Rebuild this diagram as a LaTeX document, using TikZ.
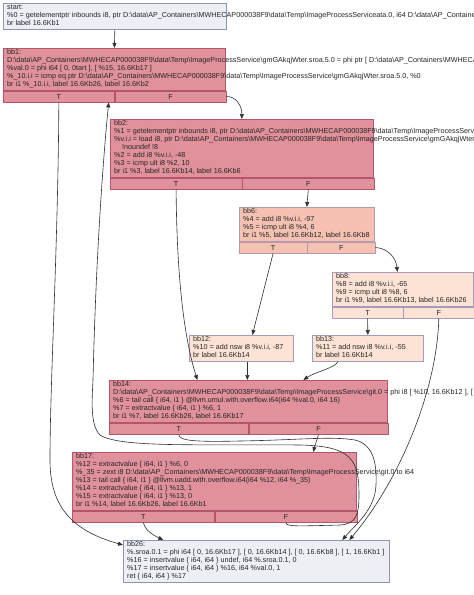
\documentclass[tikz,border=0pt]{standalone}
\usepackage{fontspec}
\setmainfont{Liberation Sans}
\usetikzlibrary{arrows.meta,calc}
\definecolor{grayfill}{HTML}{EDEFF5}
\definecolor{grayline}{HTML}{8E94B8}
\definecolor{redfill}{HTML}{E0919B}
\definecolor{redline}{HTML}{B4566A}
\definecolor{salfill}{HTML}{F5C1B3}
\definecolor{salline}{HTML}{B49AAA}
\definecolor{peachfill}{HTML}{FDE3D5}
\definecolor{peachline}{HTML}{A59BBE}
\definecolor{edgec}{HTML}{303030}
\newcommand\bs{\textbackslash}
\begin{document}
\begin{tikzpicture}[x=1pt,y=-1pt,
 box/.style={rectangle, inner sep=0pt, anchor=north west, line width=0.7pt, font=\fontsize{7.2}{8}\selectfont, text=black!85},
 gbox/.style={box, draw=grayline, fill=grayfill},
 rbox/.style={box, draw=redline, fill=redfill},
 sbox/.style={box, draw=salline, fill=salfill},
 pbox/.style={box, draw=peachline, fill=peachfill},
 txt/.style={anchor=west, inner sep=0pt, align=left, font=\fontsize{7.2}{8}\selectfont, text=black!85},
 link/.style={draw=edgec, line width=0.6pt, -{Triangle[length=5pt,width=4pt]}},
]
\useasboundingbox (0,0) rectangle (474,595);
\fill[white] (0,0) rectangle (474,595);

% start
\node[gbox, minimum width=223pt, minimum height=26pt] (start) at (3,3) {};
\node[txt] (startx) at ($(start.west)+(4,0)$) {\strut start:\\
\%0 = getelementptr inbounds i8, ptr D:\bs data\bs AP\_Containers\bs MWHECAP000038F9\bs data\bs Temp\bs ImageProcessServiceata.0, i64 D:\bs data\bs AP\_Containers\\
br label 16.6Kb1\strut};

% bb1
\node[rbox, minimum width=222pt, minimum height=42pt] (bb1) at (3,48) {};
\node[rbox, minimum width=111pt, minimum height=11pt] (bb1T) at (bb1.south west) {T};
\node[rbox, minimum width=111pt, minimum height=11pt] (bb1F) at (bb1T.north east) {F};
\node[txt] (bb1x) at ($(bb1.west)+(4,0)$) {\strut bb1:\\
D:\bs data\bs AP\_Containers\bs MWHECAP000038F9\bs data\bs Temp\bs ImageProcessService\bs gmGAkqjWter.sroa.5.0 = phi ptr [ D:\bs data\bs AP\_Containers\bs MWHECAP\\
\%val.0 = phi i64 [ 0, 0tart ], [ \%15, 16.6Kb17 ]\\
\%\_10.i.i = icmp eq ptr D:\bs data\bs AP\_Containers\bs MWHECAP000038F9\bs data\bs Temp\bs ImageProcessService\bs gmGAkqjWter.sroa.5.0, \%0\\
br i1 \%\_10.i.i, label 16.6Kb26, label 16.6Kb2\strut};

% bb2
\node[rbox, minimum width=263pt, minimum height=58pt] (bb2) at (110,119) {};
\node[rbox, minimum width=131.5pt, minimum height=11pt] (bb2T) at (bb2.south west) {T};
\node[rbox, minimum width=131.5pt, minimum height=11pt] (bb2F) at (bb2T.north east) {F};
\node[txt] (bb2x) at ($(bb2.west)+(4,0)$) {\strut bb2:\\
\%1 = getelementptr inbounds i8, ptr D:\bs data\bs AP\_Containers\bs MWHECAP000038F9\bs data\bs Temp\bs ImageProcessService\\
\%v.i.i = load i8, ptr D:\bs data\bs AP\_Containers\bs MWHECAP000038F9\bs data\bs Temp\bs ImageProcessService\bs gmGAkqjWter.s\\
\hspace*{8pt}!noundef !8\\
\%2 = add i8 \%v.i.i, -48\\
\%3 = icmp ult i8 \%2, 10\\
br i1 \%3, label 16.6Kb14, label 16.6Kb6\strut};

% bb6
\node[sbox, minimum width=135pt, minimum height=34pt] (bb6) at (239,207) {};
\node[sbox, minimum width=67.5pt, minimum height=11pt] (bb6T) at (bb6.south west) {T};
\node[sbox, minimum width=67.5pt, minimum height=11pt] (bb6F) at (bb6T.north east) {F};
\node[txt] (bb6x) at ($(bb6.west)+(4,0)$) {\strut bb6:\\
\%4 = add i8 \%v.i.i, -97\\
\%5 = icmp ult i8 \%4, 6\\
br i1 \%5, label 16.6Kb12, label 16.6Kb8\strut};

% bb8
\node[pbox, minimum width=141pt, minimum height=34pt] (bb8) at (332,272) {};
\node[pbox, minimum width=70.5pt, minimum height=11pt] (bb8T) at (bb8.south west) {T};
\node[pbox, minimum width=70.5pt, minimum height=11pt] (bb8F) at (bb8T.north east) {F};
\node[txt] (bb8x) at ($(bb8.west)+(4,0)$) {\strut bb8:\\
\%8 = add i8 \%v.i.i, -65\\
\%9 = icmp ult i8 \%8, 6\\
br i1 \%9, label 16.6Kb13, label 16.6Kb26\strut};

% bb12, bb13
\node[pbox, minimum width=104pt, minimum height=26pt] (bb12) at (189,335) {};
\node[txt] (bb12x) at ($(bb12.west)+(4,0)$) {\strut bb12:\\
\%10 = add nsw i8 \%v.i.i, -87\\
br label 16.6Kb14\strut};
\node[pbox, minimum width=111pt, minimum height=26pt] (bb13) at (312,335) {};
\node[txt] (bb13x) at ($(bb13.west)+(4,0)$) {\strut bb13:\\
\%11 = add nsw i8 \%v.i.i, -55\\
br label 16.6Kb14\strut};

% bb14
\node[rbox, minimum width=278pt, minimum height=42pt] (bb14) at (109,380) {};
\node[rbox, minimum width=139pt, minimum height=11pt] (bb14T) at (bb14.south west) {T};
\node[rbox, minimum width=139pt, minimum height=11pt] (bb14F) at (bb14T.north east) {F};
\node[txt] (bb14x) at ($(bb14.west)+(4,0)$) {\strut bb14:\\
D:\bs data\bs AP\_Containers\bs MWHECAP000038F9\bs data\bs Temp\bs ImageProcessService\bs git.0 = phi i8 [ \%10, 16.6Kb12 ], [ \%\\
\%6 = tail call \{ i64, i1 \} @llvm.umul.with.overflow.i64(i64 \%val.0, i64 16)\\
\%7 = extractvalue \{ i64, i1 \} \%6, 1\\
br i1 \%7, label 16.6Kb26, label 16.6Kb17\strut};

% bb17
\node[rbox, minimum width=284pt, minimum height=58pt] (bb17) at (72,452) {};
\node[rbox, minimum width=142pt, minimum height=11pt] (bb17T) at (bb17.south west) {T};
\node[rbox, minimum width=142pt, minimum height=11pt] (bb17F) at (bb17T.north east) {F};
\node[txt] (bb17x) at ($(bb17.west)+(4,0)$) {\strut bb17:\\
\%12 = extractvalue \{ i64, i1 \} \%6, 0\\
\%\_35 = zext i8 D:\bs data\bs AP\_Containers\bs MWHECAP000038F9\bs data\bs Temp\bs ImageProcessService\bs git.0 to i64\\
\%13 = tail call \{ i64, i1 \} @llvm.uadd.with.overflow.i64(i64 \%12, i64 \%\_35)\\
\%14 = extractvalue \{ i64, i1 \} \%13, 1\\
\%15 = extractvalue \{ i64, i1 \} \%13, 0\\
br i1 \%14, label 16.6Kb26, label 16.6Kb1\strut};

% bb26
\node[gbox, minimum width=266pt, minimum height=42pt] (bb26) at (123,540) {};
\node[txt] (bb26x) at ($(bb26.west)+(4,0)$) {\strut bb26:\\
\%.sroa.0.1 = phi i64 [ 0, 16.6Kb17 ], [ 0, 16.6Kb14 ], [ 0, 16.6Kb8 ], [ 1, 16.6Kb1 ]\\
\%16 = insertvalue \{ i64, i64 \} undef, i64 \%.sroa.0.1, 0\\
\%17 = insertvalue \{ i64, i64 \} \%16, i64 \%val.0, 1\\
ret \{ i64, i64 \} \%17\strut};

% edges
\draw[link] (start.south) -- (bb1.north);
\draw[link] (bb1T.south) .. controls (58,250) and (50,380) .. (50,460) .. controls (50,505) and (70,530) .. ($(bb26.north west)+(0,5)$);
\draw[link] (bb1F.east) .. controls (236,96) and (242,106) .. (bb2.north);
\draw[link] (bb2T.south) .. controls (177,300) and (188,350) .. ($(bb14.north)+(-51,0)$);
\draw[link] (bb2F.south) -- (bb6.north);
\draw[link] (bb6T.south) -- ($(bb12.north)+(11,0)$);
\draw[link] (bb6F.east) .. controls (388,248) and (396,258) .. ($(bb8.north)+(-5.5,0)$);
\draw[link] (bb8T.south) -- (bb13.north);
\draw[link] (bb8F.south) .. controls (437,390) and (400,480) .. ($(bb26.north)+(93,0)$);
\draw[link] ($(bb12.south)+(6,0)$) -- ($(bb14.north)+(-1,0)$);
\draw[link] ($(bb13.south)+(-30,0)$) .. controls (335,368) and (315,372) .. ($(bb14.north)+(55,0)$);
\draw[link] (bb14T.south) .. controls (179,441) and (195,442) .. (240,441) .. controls (300,440) and (330,436) .. (355,440) .. controls (372,444) and (377,460) .. (376,485) .. controls (375,510) and (355,525) .. ($(bb26.north)+(86,0)$);
\draw[link] (bb14F.south) .. controls (317,440) and (315,445) .. ($(bb17.north)+(99,0)$);
\draw[link] (bb17T.south) .. controls (145,531) and (155,536) .. ($(bb26.north)+(-93,0)$);
\draw[link] (bb17F.south) .. controls (285,527) and (300,526) .. (340,525) .. controls (356,524) and (359,515) .. (359,495) .. controls (359,460) and (352,446) .. (300,445) .. controls (200,444) and (120,448) .. (100,435) .. controls (90,425) and (92,400) .. (93,380) .. controls (96,250) and (104,150) .. ($(bb1T.south east)+(-6,0)$);
\end{tikzpicture}
\end{document}
